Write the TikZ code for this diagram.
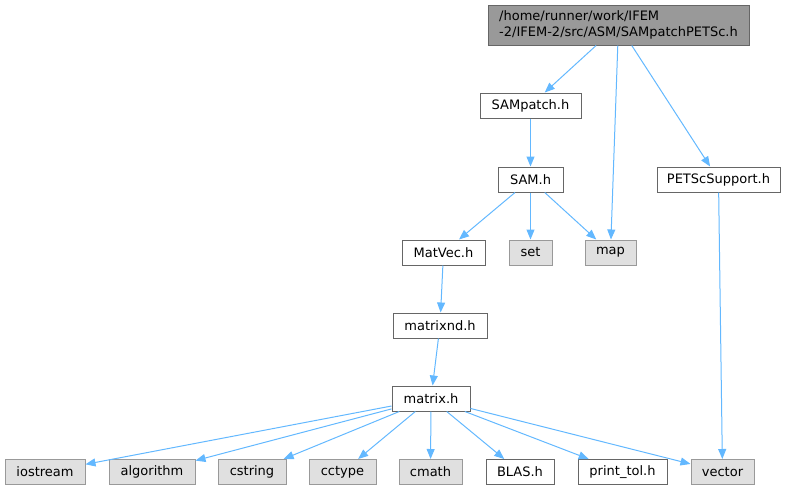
\documentclass[tikz,border=0pt]{standalone}
\usepackage{fontspec}
\setmainfont{DejaVu Sans}
\usetikzlibrary{arrows.meta}
\definecolor{edgeblue}{HTML}{63B8FF}
\definecolor{boxline}{HTML}{666666}
\definecolor{sysline}{HTML}{999999}
\definecolor{sysfill}{HTML}{E0E0E0}
\definecolor{topfill}{HTML}{999999}

\begin{document}
\begin{tikzpicture}[x=1pt, y=-1pt,
	font=\fontsize{13}{16}\selectfont,
	hdr/.style={draw=boxline, line width=1pt, fill=white, inner sep=0pt, minimum height=25pt},
	sys/.style={hdr, draw=sysline, fill=sysfill},
	inc/.style={draw=edgeblue, line width=1pt, -{Triangle[length=10pt,width=8pt]}}]
			%%%%% START %%%%%
			\useasboundingbox (0, 0) rectangle (785, 491);
			
			\node[hdr, fill=topfill, minimum width=261pt, minimum height=40pt, align=left] (top) at (618.5, 25) {/home/runner/work/IFEM\\-2/IFEM-2/src/ASM/SAMpatchPETSc.h};
			
			\node[hdr, minimum width=101pt] (sampatch) at (530.5, 105.5) {SAMpatch.h};
			\node[hdr, minimum width=65pt] (sam) at (530.5, 179.5) {SAM.h};
			\node[hdr, minimum width=123pt] (petsc) at (718.5, 179.5) {PETScSupport.h};
			
			\node[hdr, minimum width=83pt] (matvec) at (443.5, 252.5) {MatVec.h};
			\node[sys, minimum width=43pt] (set) at (530.5, 252.5) {set};
			\node[sys, minimum width=51pt] (map) at (610.5, 252.5) {map};
			
			\node[hdr, minimum width=94pt] (matrixnd) at (440, 325.5) {matrixnd.h};
			\node[hdr, minimum width=78pt] (matrix) at (431, 398.5) {matrix.h};
			
			\node[sys, minimum width=80pt] (iostream) at (45, 472) {iostream};
			\node[sys, minimum width=86pt] (algorithm) at (152, 472) {algorithm};
			\node[sys, minimum width=68pt] (cstring) at (252, 472) {cstring};
			\node[sys, minimum width=67pt] (cctype) at (342.5, 472) {cctype};
			\node[sys, minimum width=63pt] (cmath) at (430.5, 472) {cmath};
			\node[hdr, minimum width=68pt] (blas) at (520, 472) {BLAS.h};
			\node[hdr, minimum width=89pt] (printtol) at (622.5, 472) {print\_tol.h};
			\node[sys, minimum width=63pt] (vector) at (722.5, 472) {vector};
			
			\draw[inc] (top) -- (sampatch);
			\draw[inc] (top) -- (map);
			\draw[inc] (top) -- (petsc);
			
			\draw[inc] (sampatch) -- (sam);
			\draw[inc] (sam) -- (matvec);
			\draw[inc] (sam) -- (set);
			\draw[inc] (sam) -- (map);
			\draw[inc] (petsc) -- (vector);
			
			\draw[inc] (matvec) -- (matrixnd);
			\draw[inc] (matrixnd) -- (matrix);
			
			\foreach \dep in {iostream, algorithm, cstring, cctype, cmath, blas, printtol, vector}
				\draw[inc] (matrix) -- (\dep);
			
			%%%%% END %%%%%
		\end{tikzpicture}
\end{document}
